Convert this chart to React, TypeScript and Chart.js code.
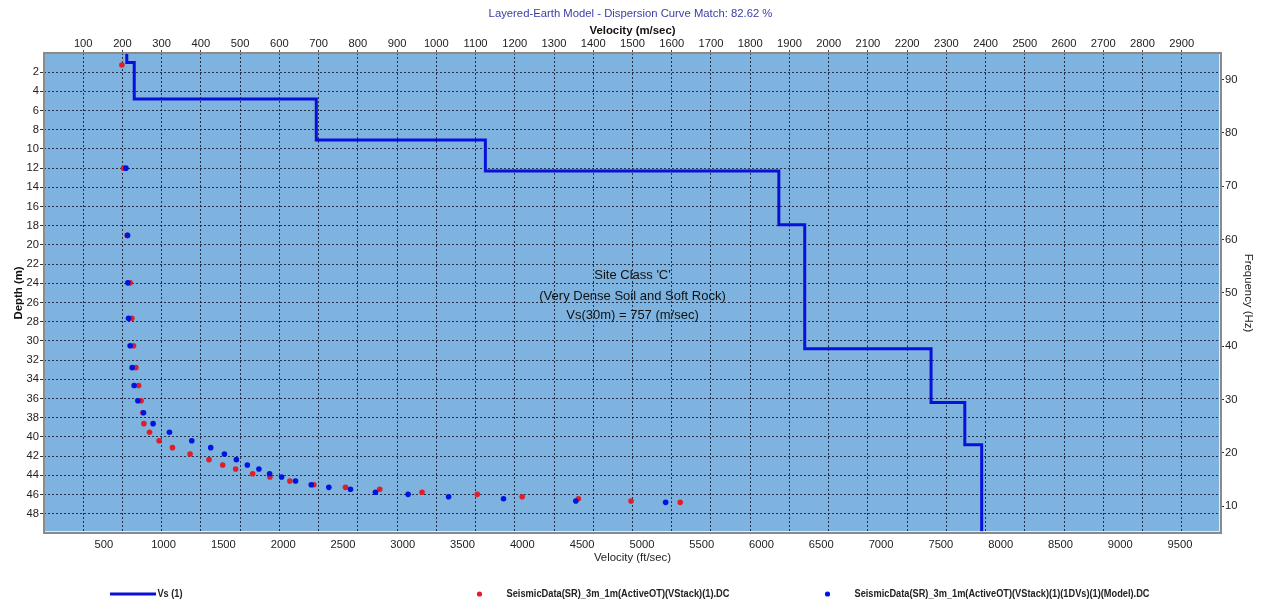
import React, { useEffect, useRef } from 'react';
import { Chart, registerables } from 'chart.js';

Chart.register(...registerables);

const FONT = "'Liberation Sans', Arial, sans-serif";

// ---- text ----
const chartTitle = 'Layered-Earth Model - Dispersion Curve Match: 82.62 %';
const topAxisTitle = 'Velocity (m/sec)';
const bottomAxisTitle = 'Velocity (ft/sec)';
const leftAxisTitle = 'Depth (m)';
const rightAxisTitle = 'Frequency (Hz)';
const siteLines = ["Site Class 'C'", '(Very Dense Soil and Soft Rock)', 'Vs(30m) = 757 (m/sec)'];
const legendLabels = [
  'Vs (1)',
  'SeismicData(SR)_3m_1m(ActiveOT)(VStack)(1).DC',
  'SeismicData(SR)_3m_1m(ActiveOT)(VStack)(1)(1DVs)(1)(Model).DC',
];

// ---- axes ----
const velMinMs = 0;
const velMaxMs = 3000;
const velStepMs = 100;
const ftPerM = 3.28084;
const ftTicks = [500, 1000, 1500, 2000, 2500, 3000, 3500, 4000, 4500, 5000, 5500, 6000, 6500, 7000, 7500, 8000, 8500, 9000, 9500];
const depthMin = 0;
const depthMax = 50;
const depthStep = 2;
const freqMin = 5;
const freqMax = 95;
const freqTicks = [10, 20, 30, 40, 50, 60, 70, 80, 90];

// ---- Vs profile (layers) ----
const layerTopDepth = [0, 1.0, 4.8, 9.06, 12.3, 17.9, 30.8, 36.4, 40.8];
const layerVs = [211, 230, 694, 1125, 1873, 1939, 2261, 2347, 2390];
const profileBottomDepth = 50;

// ---- dispersion data: measured (red) ----
const measuredFreq = [92.75, 73.4, 60.8, 51.9, 45.25, 40.1, 36.0, 32.65, 29.8, 27.55, 25.5, 23.9, 22.3, 21.0, 19.8, 18.75, 17.75, 17.0, 16.1, 15.5, 14.75, 14.05, 13.56, 13.19, 12.63, 12.25, 11.8, 11.43, 11.0, 10.75];
const measuredVel = [198.5, 202.8, 212, 219.6, 223.9, 228.2, 234.1, 241.2, 247.6, 252, 254.5, 269, 293.4, 327.5, 372.3, 420.6, 455.5, 488.5, 531.8, 575.8, 626.7, 687.8, 768.4, 855.7, 963.6, 1104.3, 1218.8, 1362.1, 1496.2, 1621.6];

// ---- dispersion data: model (blue) ----
const modelFreq = [73.4, 60.8, 51.9, 45.25, 40.1, 36.0, 32.65, 29.8, 27.55, 25.5, 23.9, 22.3, 21.0, 19.8, 18.75, 17.75, 17.0, 16.1, 15.5, 14.75, 14.05, 13.56, 13.19, 12.63, 12.25, 11.8, 11.43, 11.0, 10.75];
const modelVel = [208.7, 213, 213.7, 215.5, 219.6, 224.7, 229.8, 239.2, 253.7, 278.1, 319.8, 376.6, 424.9, 459.8, 490.3, 518.3, 547.8, 575.1, 605.6, 641.2, 681.2, 726, 781.2, 844.8, 928, 1031.3, 1171.2, 1355.5, 1584.5];

// ---- colours ----
const plotBg = '#7db3de';
const gridColor = 'rgba(15,15,35,0.8)';
const vsColor = 'rgb(10,16,220)';
const redColor = 'rgb(225,30,40)';
const blueColor = 'rgb(0,20,225)';

function buildProfile() {
  const pts: { x: number; y: number }[] = [];
  for (let i = 0; i < layerVs.length; i++) {
    const top = layerTopDepth[i];
    const bottom = i + 1 < layerTopDepth.length ? layerTopDepth[i + 1] : profileBottomDepth;
    pts.push({ x: layerVs[i], y: top });
    pts.push({ x: layerVs[i], y: bottom });
  }
  return pts;
}

const framePlugin = {
  id: 'frame',
  beforeDraw(chart: any) {
    const { ctx, chartArea: a } = chart;
    ctx.save();
    ctx.fillStyle = plotBg;
    ctx.fillRect(a.left, a.top, a.right - a.left, a.bottom - a.top);
    ctx.restore();
  },
  afterDraw(chart: any) {
    const { ctx, chartArea: a } = chart;
    ctx.save();
    ctx.strokeStyle = 'rgba(255,255,255,0.75)';
    ctx.lineWidth = 1;
    ctx.beginPath();
    ctx.moveTo(a.left + 1, a.bottom - 1.5);
    ctx.lineTo(a.right - 1.5, a.bottom - 1.5);
    ctx.lineTo(a.right - 1.5, a.top + 1);
    ctx.stroke();
    ctx.strokeStyle = '#8a8a8a';
    ctx.lineWidth = 2;
    ctx.strokeRect(a.left, a.top, a.right - a.left, a.bottom - a.top);

    const cx = (a.left + a.right) / 2;
    ctx.fillStyle = '#111';
    ctx.font = `13px ${FONT}`;
    ctx.textAlign = 'center';
    ctx.textBaseline = 'middle';
    const ys = [275, 296, 315.5];
    const widths = [82, 194, 137];
    siteLines.forEach((t, i) => ctx.fillText(t, cx, ys[i], widths[i]));

    const ly = 594;
    ctx.textAlign = 'left';
    ctx.font = `bold 10.5px ${FONT}`;
    ctx.strokeStyle = vsColor;
    ctx.lineWidth = 3;
    ctx.beginPath();
    ctx.moveTo(110, ly);
    ctx.lineTo(156, ly);
    ctx.stroke();
    ctx.fillStyle = '#222';
    ctx.fillText(legendLabels[0], 157.5, ly, 25);

    ctx.fillStyle = redColor;
    ctx.beginPath();
    ctx.arc(479.5, ly, 2.6, 0, Math.PI * 2);
    ctx.fill();
    ctx.fillStyle = '#222';
    ctx.fillText(legendLabels[1], 506.5, ly, 223);

    ctx.fillStyle = blueColor;
    ctx.beginPath();
    ctx.arc(827.5, ly, 2.6, 0, Math.PI * 2);
    ctx.fill();
    ctx.fillStyle = '#222';
    ctx.fillText(legendLabels[2], 854.5, ly, 295);
    ctx.restore();
  },
};

export default function App() {
  const ref = useRef<HTMLCanvasElement | null>(null);

  useEffect(() => {
    if (!ref.current) return;
    const tickFont = { family: FONT, size: 11.2 };
    const titleFont = (bold: boolean) => ({ family: FONT, size: 11.4, weight: bold ? 'bold' : 'normal' });
    const hideEnds = (min: number, max: number, color: string) => (c: any) =>
      c.tick && (c.tick.value <= min || c.tick.value >= max) ? 'rgba(0,0,0,0)' : color;
    const chart = new Chart(ref.current, {
      type: 'scatter',
      data: {
        datasets: [
          {
            label: legendLabels[0],
            data: buildProfile(),
            showLine: true,
            borderColor: vsColor,
            borderWidth: 3,
            pointRadius: 0,
            fill: false,
            tension: 0,
            xAxisID: 'x',
            yAxisID: 'y',
            order: 0,
          },
          {
            label: legendLabels[2],
            data: modelVel.map((v, i) => ({ x: v, y: modelFreq[i] })),
            pointRadius: 2.8,
            pointBorderWidth: 0,
            pointBackgroundColor: blueColor,
            backgroundColor: blueColor,
            xAxisID: 'x',
            yAxisID: 'y2',
            order: 1,
          },
          {
            label: legendLabels[1],
            data: measuredVel.map((v, i) => ({ x: v, y: measuredFreq[i] })),
            pointRadius: 2.8,
            pointBorderWidth: 0,
            pointBackgroundColor: redColor,
            backgroundColor: redColor,
            xAxisID: 'x',
            yAxisID: 'y2',
            order: 2,
          },
        ],
      },
      options: {
        responsive: false,
        animation: false,
        layout: { padding: 0 },
        plugins: {
          legend: { display: false },
          tooltip: { enabled: false },
          title: {
            display: true,
            text: chartTitle,
            color: '#3c3ca8',
            font: { family: FONT, size: 11.3, weight: 'normal' },
            padding: { top: 7, bottom: 0 },
          },
        },
        scales: {
          x: {
            type: 'linear',
            position: 'top',
            min: velMinMs,
            max: velMaxMs,
            afterFit: (s: any) => { s.height = 32.4; },
            ticks: {
              stepSize: velStepMs,
              autoSkip: false,
              maxRotation: 0,
              padding: -1,
              color: '#222',
              font: tickFont,
              callback: (v: any) => (v > velMinMs && v < velMaxMs ? String(v) : ''),
            },
            grid: {
              color: gridColor,
              lineWidth: 1,
              tickLength: 3,
              tickColor: hideEnds(velMinMs, velMaxMs, gridColor),
            },
            border: { display: false, dash: [2, 2] },
            title: {
              display: true,
              text: topAxisTitle,
              color: '#111',
              font: titleFont(true),
              padding: { top: 3.5, bottom: 0 },
            },
          },
          x2: {
            type: 'linear',
            position: 'bottom',
            min: velMinMs * ftPerM,
            max: velMaxMs * ftPerM,
            afterFit: (s: any) => { s.height = 72; },
            afterBuildTicks: (s: any) => { s.ticks = ftTicks.map((v) => ({ value: v })); },
            ticks: {
              autoSkip: false,
              maxRotation: 0,
              padding: 5.5,
              color: '#222',
              font: tickFont,
              callback: (v: any) => String(v),
            },
            grid: { display: false, drawTicks: false },
            border: { display: false },
            title: {
              display: true,
              text: bottomAxisTitle,
              color: '#222',
              font: titleFont(false),
              padding: { top: 0, bottom: 40 },
            },
          },
          y: {
            type: 'linear',
            position: 'left',
            reverse: true,
            min: depthMin,
            max: depthMax,
            afterFit: (s: any) => { s.width = 44; },
            ticks: {
              stepSize: depthStep,
              autoSkip: false,
              padding: 1,
              color: '#222',
              font: tickFont,
              callback: (v: any) => (v > depthMin && v < depthMax ? String(v) : ''),
            },
            grid: {
              color: gridColor,
              lineWidth: 1,
              tickLength: 4,
              tickColor: hideEnds(depthMin, depthMax, '#333'),
              tickBorderDash: [],
            },
            border: { display: false, dash: [2, 2] },
            title: {
              display: true,
              text: leftAxisTitle,
              color: '#111',
              font: titleFont(true),
              padding: { top: 12.5, bottom: 0 },
            },
          },
          y2: {
            type: 'linear',
            position: 'right',
            min: freqMin,
            max: freqMax,
            afterFit: (s: any) => { s.width = 40; },
            afterBuildTicks: (s: any) => { s.ticks = freqTicks.map((v) => ({ value: v })); },
            ticks: {
              autoSkip: false,
              padding: 1,
              color: '#222',
              font: tickFont,
              callback: (v: any) => String(v),
            },
            grid: { drawOnChartArea: false, tickLength: 3, tickColor: '#333', color: '#333' },
            border: { display: false },
            title: {
              display: true,
              text: rightAxisTitle,
              color: '#222',
              font: titleFont(false),
              padding: { top: 6, bottom: 0 },
            },
          },
        },
      },
      plugins: [framePlugin],
    } as any);
    return () => chart.destroy();
  }, []);

  return (
    <div style={{ position: 'absolute', left: 0, top: 0, width: 1261, height: 605, background: '#fff' }}>
      <canvas ref={ref} width={1261} height={605} style={{ display: 'block' }} />
    </div>
  );
}
